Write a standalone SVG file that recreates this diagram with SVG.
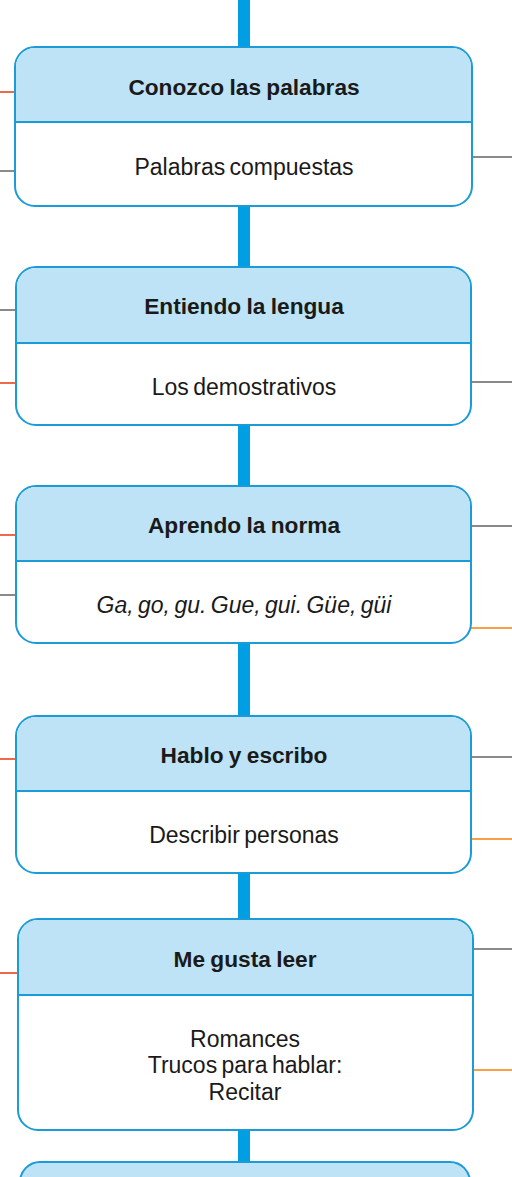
<svg xmlns="http://www.w3.org/2000/svg" width="512" height="1177" viewBox="0 0 512 1177">
<style>
.box{fill:#fff;stroke:#1b9bd8;stroke-width:2}
.hdr{fill:#bee3f6}
.div{stroke:#1b9bd8;stroke-width:2}
.h{font-family:"Liberation Sans",Arial,sans-serif;font-weight:bold;font-size:22.7px;fill:#1a1a1a;text-anchor:middle;word-spacing:-1px}
.b{font-family:"Liberation Sans",Arial,sans-serif;font-size:23px;fill:#1a1a1a;text-anchor:middle;word-spacing:-2px}
.gray{stroke:#8a8a8a;stroke-width:2}
.red{stroke:#ec6a47;stroke-width:2}
.orng{stroke:#f7a045;stroke-width:2}
</style>
<g id="connectors">
<rect x="238" y="0" width="12" height="1177" fill="#009fe3"/>
<line class="red" x1="0" y1="92" x2="16" y2="92"/>
<line class="gray" x1="0" y1="171" x2="16" y2="171"/>
<line class="gray" x1="471" y1="157" x2="512" y2="157"/>
<line class="gray" x1="0" y1="310" x2="16" y2="310"/>
<line class="red" x1="0" y1="383" x2="16" y2="383"/>
<line class="gray" x1="471" y1="382" x2="512" y2="382"/>
<line class="red" x1="0" y1="535" x2="16" y2="535"/>
<line class="gray" x1="0" y1="595" x2="16" y2="595"/>
<line class="gray" x1="471" y1="526" x2="512" y2="526"/>
<line class="orng" x1="471" y1="628" x2="512" y2="628"/>
<line class="red" x1="0" y1="759" x2="16" y2="759"/>
<line class="gray" x1="471" y1="757" x2="512" y2="757"/>
<line class="orng" x1="471" y1="839" x2="512" y2="839"/>
<line class="red" x1="0" y1="973" x2="18" y2="973"/>
<line class="gray" x1="473" y1="949" x2="512" y2="949"/>
<line class="orng" x1="473" y1="1070" x2="512" y2="1070"/>
</g>
<g id="node1">
<rect class="box" x="15" y="47" width="457" height="159" rx="20"/>
<path class="hdr" d="M16,122 V67 A19,19 0 0 1 35,48 H452 A19,19 0 0 1 471,67 V122 Z"/>
<line class="div" x1="15" y1="122" x2="472" y2="122"/>
<text class="h" x="244" y="95">Conozco las palabras</text>
<text class="b" x="244" y="175">Palabras compuestas</text>
</g>
<g id="node2">
<rect class="box" x="16" y="267" width="455" height="158" rx="20"/>
<path class="hdr" d="M17,343 V287 A19,19 0 0 1 36,268 H451 A19,19 0 0 1 470,287 V343 Z"/>
<line class="div" x1="16" y1="343" x2="471" y2="343"/>
<text class="h" x="244" y="314">Entiendo la lengua</text>
<text class="b" x="244" y="395">Los demostrativos</text>
</g>
<g id="node3">
<rect class="box" x="16" y="486" width="455" height="157" rx="20"/>
<path class="hdr" d="M17,561 V506 A19,19 0 0 1 36,487 H451 A19,19 0 0 1 470,506 V561 Z"/>
<line class="div" x1="16" y1="561" x2="471" y2="561"/>
<text class="h" x="244" y="533">Aprendo la norma</text>
<text class="b" x="244" y="613" font-style="italic">Ga, go, gu. Gue, gui. Güe, güi</text>
</g>
<g id="node4">
<rect class="box" x="16" y="716" width="455" height="157" rx="20"/>
<path class="hdr" d="M17,791 V736 A19,19 0 0 1 36,717 H451 A19,19 0 0 1 470,736 V791 Z"/>
<line class="div" x1="16" y1="791" x2="471" y2="791"/>
<text class="h" x="244" y="763">Hablo y escribo</text>
<text class="b" x="244" y="843">Describir personas</text>
</g>
<g id="node5">
<rect class="box" x="18" y="919" width="455" height="211" rx="20"/>
<path class="hdr" d="M19,995 V939 A19,19 0 0 1 38,920 H453 A19,19 0 0 1 472,939 V995 Z"/>
<line class="div" x1="18" y1="995" x2="473" y2="995"/>
<text class="h" x="245" y="967">Me gusta leer</text>
<text class="b" x="245" y="1047">Romances</text>
<text class="b" x="245" y="1073">Trucos para hablar:</text>
<text class="b" x="245" y="1100">Recitar</text>
</g>
<g id="node6">
<path d="M20,1190 V1182 A20,20 0 0 1 40,1162 H450 A20,20 0 0 1 470,1182 V1190" fill="#bee3f6" stroke="#1b9bd8" stroke-width="2"/>
</g>
</svg>
